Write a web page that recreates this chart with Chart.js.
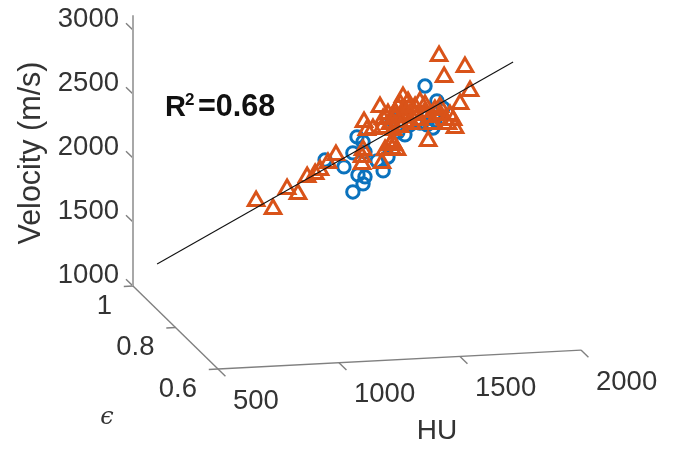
<!DOCTYPE html>
<html>
<head>
<meta charset="utf-8">
<style>
  html, body { margin: 0; padding: 0; background: #fff; }
  canvas { display: block; }
</style>
<script src="https://cdn.jsdelivr.net/npm/chart.js@4"></script>
</head>
<body>
<canvas id="chart" width="678" height="450"></canvas>
<script>
// values; the depth (epsilon) of a point can't be read, so all sit at 0.8
const huTicks = [500, 1000, 1500, 2000];
const epsTicks = [0.6, 0.8, 1];
const velTicks = [1000, 1500, 2000, 2500, 3000];
const velAxisTop = 3115;
const epsRead = 0.8;

const triHU = [833, 903, 961, 1006, 1044, 1077, 1130, 1163, 1097, 1271, 1353, 1275, 1387, 1395, 1366, 1415, 1544, 1655,
  1589, 1696, 1610, 1717, 1676, 1440, 1345, 1279, 1316, 1291, 1358, 1407, 1428, 1448, 1469, 1490, 1510, 1531, 1552,
  1448, 1477, 1419, 1510, 1572, 1593, 1614, 1634, 1647, 1626, 1593, 1387, 1399, 1419, 1461, 1353, 1271,
  1378, 1440, 1490, 1531, 1560, 1469, 1407, 1428, 1395, 1403];
const triVel = [1955, 1886, 2036, 1993, 2122, 2142, 2223, 2283, 2171, 2201, 2201, 2311, 2339, 2306, 2302, 2297, 2354, 2445,
  3014, 2917, 2848, 2728, 2630, 2708, 2640, 2529, 2471, 2465, 2545, 2595, 2655, 2607, 2573, 2626, 2662, 2582, 2541,
  2513, 2494, 2515, 2521, 2594, 2560, 2511, 2548, 2508, 2479, 2615, 2503, 2454, 2632, 2667, 2475, 2256,
  2581, 2552, 2563, 2637, 2486, 2628, 2556, 2476, 2362, 2337];

const circHU = [1233, 1275, 1254, 1283, 1196, 1358, 1333, 1378, 1233, 1250, 1283, 1275, 1448, 1419, 1118, 1564, 1510,
  1539, 1531, 1580, 1605, 1539, 1572, 1395, 1469];
const circVel = [1987, 2046, 2118, 2100, 2186, 2139, 2219, 2246, 2292, 2415, 2295, 2374, 2412, 2437, 2248, 2454, 2498,
  2481, 2785, 2664, 2607, 2543, 2516, 2534, 2488];

const fitHU = [424, 1895];
const fitVel = [1504, 2937];

// 3D view as MATLAB left it: hu/eps/velocity to the flat plane the scales cover
function project(hu, eps, vel) {
  return {
    x: 218 + 0.242 * (hu - 500) - 212.5 * (eps - 0.6),
    y: 369 - 0.0126 * (hu - 500) - 207.5 * (eps - 0.6) - 0.128 * (vel - 1000),
  };
}

const axisColor = '#808080';
function segment(a, b, color, width) {
  return {
    type: 'scatter', showLine: true, pointRadius: 0,
    data: [project(...a), project(...b)],
    borderColor: color || axisColor, borderWidth: width || 1.4,
  };
}

const axisSets = [
  segment([500, 0.6, 1000], [2000, 0.6, 1000]),
  segment([500, 0.6, 1000], [500, 1, 1000]),
  segment([500, 1, 1000], [500, 1, velAxisTop], '#a8a8a8', 2),
];
huTicks.forEach(h => axisSets.push(segment([h, 0.6, 1000], [h, 0.565, 1000])));
epsTicks.forEach(e => axisSets.push(segment([500, e, 1000], [462, e, 1000])));
velTicks.forEach(v => axisSets.push(segment([500, 1, v], [500, 1.033, v])));

const textColor = '#333';
const textPlugin = {
  id: 'axisText',
  afterDraw(chart) {
    const ctx = chart.ctx;
    const put = (str, x, y, font, align, rot, color) => {
      ctx.save();
      ctx.translate(x, y);
      if (rot) ctx.rotate(rot);
      ctx.font = font;
      ctx.fillStyle = color || textColor;
      ctx.textAlign = align;
      ctx.textBaseline = 'middle';
      ctx.fillText(str, 0, 0);
      ctx.restore();
    };
    const tickFont = '27.5px "Liberation Sans", Arial, sans-serif';
    velTicks.forEach(v => {
      const p = project(500, 1, v);
      put(String(v), p.x - 14, p.y - 11, tickFont, 'right');
    });
    epsTicks.forEach(e => {
      const p = project(500, e, 1000);
      put(String(e), p.x - 21, p.y + 20, tickFont, 'right');
    });
    huTicks.forEach(h => {
      const p = project(h, 0.6, 1000);
      put(String(h), p.x + 15, p.y + 32, tickFont, 'left');
    });
    put('Velocity (m/s)', 32, 153, '30.5px "Liberation Sans", Arial, sans-serif', 'center', -Math.PI / 2);
    put('HU', 437, 431, '28px "Liberation Sans", Arial, sans-serif', 'center');
    put('\u03F5', 107, 418, 'italic 24px "DejaVu Serif", serif', 'center');
    // R squared, the 2 is its own smaller run
    const boldFont = s => 'bold ' + s + 'px "Liberation Sans", Arial, sans-serif';
    put('R', 165, 108, boldFont(29), 'left', 0, '#111');
    put('2', 185, 100, boldFont(17), 'left', 0, '#111');
    put('=0.68', 198, 108, boldFont(30.5), 'left', 0, '#111');
  },
};

new Chart(document.getElementById('chart'), {
  type: 'scatter',
  data: {
    datasets: [
      {
        label: 'fit', showLine: true, pointRadius: 0,
        data: fitHU.map((h, i) => project(h, epsRead, fitVel[i])),
        borderColor: '#111', borderWidth: 1.1,
      },
      {
        label: 'triangles',
        data: triHU.map((h, i) => project(h, epsRead, triVel[i])),
        pointStyle: 'triangle', pointRadius: 9, pointBorderWidth: 3,
        pointBorderColor: '#D95319', pointBackgroundColor: 'rgba(0,0,0,0)',
      },
      {
        label: 'circles',
        data: circHU.map((h, i) => project(h, epsRead, circVel[i])),
        pointStyle: 'circle', pointRadius: 6.2, pointBorderWidth: 3,
        pointBorderColor: '#0A72BD', pointBackgroundColor: 'rgba(0,0,0,0)',
      },
      ...axisSets,
    ],
  },
  options: {
    responsive: false,
    animation: false,
    layout: { padding: 0, autoPadding: false },
    plugins: { legend: { display: false }, tooltip: { enabled: false } },
    scales: {
      x: { type: 'linear', min: 0, max: 678, display: false },
      y: { type: 'linear', min: 0, max: 450, reverse: true, display: false },
    },
  },
  plugins: [textPlugin],
});
</script>
</body>
</html>
